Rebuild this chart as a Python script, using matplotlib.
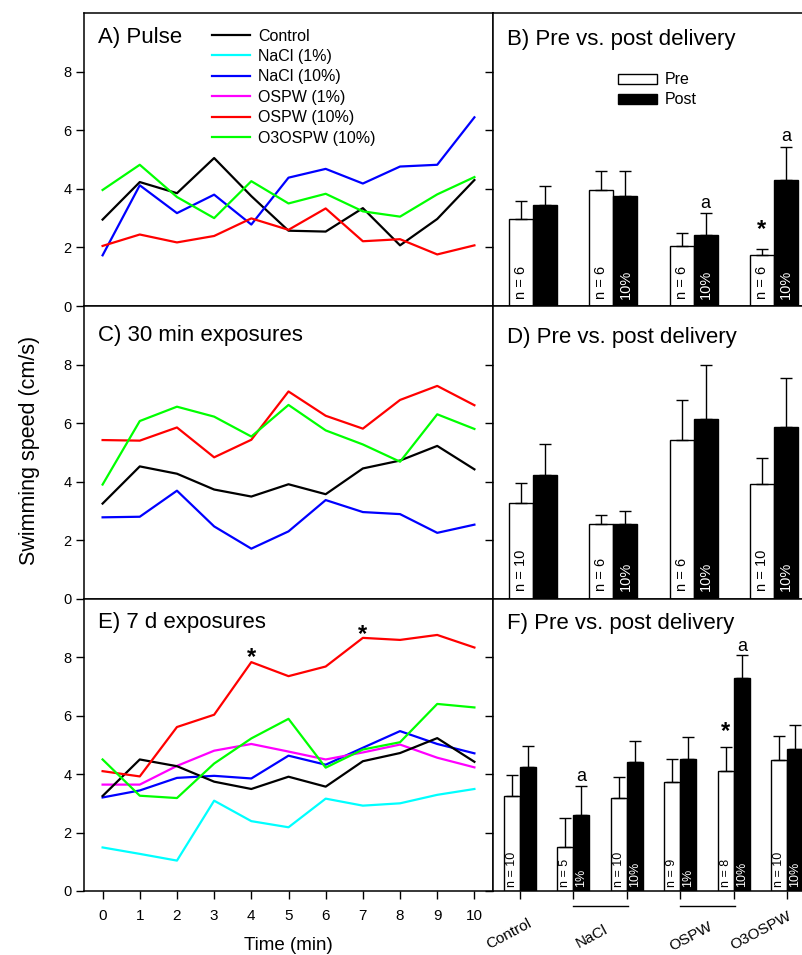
import matplotlib
matplotlib.use("Agg")
import matplotlib.pyplot as plt
from matplotlib.lines import Line2D
from matplotlib.patches import Patch
import matplotlib.transforms as mtransforms

plt.rcParams['font.family'] = ['Liberation Sans', 'DejaVu Sans']

# ---------------- data ----------------
times = list(range(11))

pulse_control = [2.95, 4.23, 3.85, 5.05, 3.75, 2.57, 2.54, 3.34, 2.07, 2.97, 4.30]
pulse_nacl10 = [1.73, 4.12, 3.17, 3.80, 2.78, 4.38, 4.68, 4.18, 4.76, 4.82, 6.44]
pulse_ospw10 = [2.05, 2.44, 2.17, 2.39, 2.99, 2.60, 3.33, 2.21, 2.28, 1.76, 2.07]
pulse_o3ospw10 = [3.96, 4.82, 3.72, 3.00, 4.26, 3.50, 3.83, 3.23, 3.05, 3.81, 4.40]

min30_control = [3.25, 4.52, 4.27, 3.73, 3.49, 3.91, 3.57, 4.45, 4.72, 5.22, 4.42]
min30_nacl10 = [2.78, 2.80, 3.69, 2.47, 1.71, 2.30, 3.37, 2.96, 2.89, 2.25, 2.53]
min30_ospw10 = [5.42, 5.40, 5.85, 4.83, 5.43, 7.08, 6.25, 5.81, 6.79, 7.27, 6.61]
min30_o3ospw10 = [3.90, 6.07, 6.56, 6.22, 5.54, 6.62, 5.75, 5.27, 4.68, 6.30, 5.80]

day7_control = [3.25, 4.50, 4.27, 3.74, 3.49, 3.91, 3.57, 4.44, 4.72, 5.23, 4.42]
day7_nacl1 = [1.49, 1.27, 1.04, 3.09, 2.39, 2.18, 3.16, 2.92, 3.00, 3.29, 3.49]
day7_nacl10 = [3.20, 3.44, 3.87, 3.94, 3.85, 4.63, 4.32, 4.90, 5.47, 5.03, 4.71]
day7_ospw1 = [3.64, 3.64, 4.28, 4.80, 5.03, 4.77, 4.50, 4.74, 5.01, 4.56, 4.23]
day7_ospw10 = [4.10, 3.92, 5.61, 6.03, 7.83, 7.35, 7.68, 8.66, 8.59, 8.76, 8.33]
day7_o3ospw10 = [4.50, 3.26, 3.18, 4.36, 5.22, 5.89, 4.22, 4.84, 5.09, 6.40, 6.28]

series_labels = ['Control', 'NaCl (1%)', 'NaCl (10%)', 'OSPW (1%)', 'OSPW (10%)', 'O3OSPW (10%)']
series_colors = ['#000000', '#00FFFF', '#0000FF', '#FF00FF', '#FF0000', '#00FF00']

# bar panels
b_pre = [2.96, 3.97, 2.05, 1.75]
b_pre_err = [0.62, 0.65, 0.44, 0.21]
b_post = [3.46, 3.76, 2.43, 4.31]
b_post_err = [0.63, 0.86, 0.75, 1.12]
b_n = ['n = 6', 'n = 6', 'n = 6', 'n = 6']
b_conc = ['', '10%', '10%', '10%']

d_pre = [3.27, 2.56, 5.42, 3.91]
d_pre_err = [0.69, 0.31, 1.38, 0.90]
d_post = [4.23, 2.54, 6.14, 5.88]
d_post_err = [1.06, 0.45, 1.83, 1.66]
d_n = ['n = 10', 'n = 6', 'n = 6', 'n = 10']
d_conc = ['', '10%', '10%', '10%']

f_pre = [3.25, 1.49, 3.19, 3.74, 4.10, 4.49]
f_pre_err = [0.73, 1.02, 0.72, 0.76, 0.82, 0.81]
f_post = [4.23, 2.59, 4.41, 4.50, 7.27, 4.87]
f_post_err = [0.73, 1.00, 0.72, 0.78, 0.79, 0.81]
f_n = ['n = 10', 'n = 5', 'n = 10', 'n = 9', 'n = 8', 'n = 10']
f_conc = ['', '1%', '10%', '1%', '10%', '10%']
f_categories = ['Control', 'NaCl', 'OSPW', 'O3OSPW']

panel_titles = ['A) Pulse', 'B) Pre vs. post delivery', 'C) 30 min exposures',
                'D) Pre vs. post delivery', 'E) 7 d exposures', 'F) Pre vs. post delivery']

# ---------------- figure ----------------
W, H = 802, 955
fig = plt.figure(figsize=(W / 100, H / 100), dpi=100)
fig.patch.set_facecolor('white')

def frac_box(x0, y0, x1, y1):
    return [x0 / W, 1 - y1 / H, (x1 - x0) / W, (y1 - y0) / H]

rows = [(13, 306), (306, 598.7), (598.7, 891)]
xl0, xdiv, xr1 = 84, 493, 814

LW_SP = 1.1
axes_left = []
axes_right = []
for (y0, y1) in rows:
    axl = fig.add_axes(frac_box(xl0, y0, xdiv, y1))
    axr = fig.add_axes(frac_box(xdiv, y0, xr1, y1))
    axes_left.append(axl)
    axes_right.append(axr)

for ax in axes_left:
    ax.set_xlim(-0.5, 10.5)
    ax.set_ylim(0, 10)
    ax.set_xticks(times)
    ax.set_yticks([0, 2, 4, 6, 8])
    ax.tick_params(axis='both', direction='out', length=6, width=1.0, labelsize=10.5, pad=3)
    ax.tick_params(axis='x', labelbottom=False)
    for s in ax.spines.values():
        s.set_linewidth(LW_SP)

for ax in axes_right:
    ax.set_ylim(0, 10)
    ax.set_yticks([0, 2, 4, 6, 8])
    ax.tick_params(axis='y', direction='out', length=6, width=1.0, labelleft=False)
    ax.tick_params(axis='x', direction='out', length=6, width=1.0, labelbottom=False)
    for s in ax.spines.values():
        s.set_linewidth(LW_SP)

LW = 1.6
# Panel A
axA = axes_left[0]
for vals, ci in [(pulse_control, 0), (pulse_nacl10, 2), (pulse_ospw10, 4), (pulse_o3ospw10, 5)]:
    axA.plot(times, vals, color=series_colors[ci], lw=LW)
handles = [Line2D([0], [0], color=c, lw=LW) for c in series_colors]
axA.legend(handles, series_labels, loc='upper left', bbox_to_anchor=(0.313, 0.947),
           frameon=False, fontsize=11.5, handlelength=2.35, handletextpad=0.55,
           labelspacing=0.34, borderpad=0, borderaxespad=0)

# Panel C
axC = axes_left[1]
for vals, ci in [(min30_control, 0), (min30_nacl10, 2), (min30_ospw10, 4), (min30_o3ospw10, 5)]:
    axC.plot(times, vals, color=series_colors[ci], lw=LW)

# Panel E
axE = axes_left[2]
for vals, ci in [(day7_nacl1, 1), (day7_nacl10, 2), (day7_ospw1, 3), (day7_control, 0),
                 (day7_ospw10, 4), (day7_o3ospw10, 5)]:
    axE.plot(times, vals, color=series_colors[ci], lw=LW)
axE.tick_params(axis='x', labelbottom=True, labelsize=11, pad=7)
axE.set_xlabel('Time (min)', fontsize=13.5, labelpad=10)
axE.text(4, 7.98, '*', ha='center', va='center', fontsize=17, fontweight='bold')
axE.text(7, 8.78, '*', ha='center', va='center', fontsize=17, fontweight='bold')

# titles
title_y = [0.915, 0.908, 0.9, 0.893, 0.92, 0.915]
for ax, t, ty in zip([axes_left[0], axes_right[0], axes_left[1], axes_right[1], axes_left[2], axes_right[2]],
                     panel_titles, title_y):
    ax.text(0.035 if ax in axes_left else 0.045, ty, t, transform=ax.transAxes,
            ha='left', va='center', fontsize=16)

# bar panels
BW = 0.3
def bar_panel(ax, pre, pre_err, post, post_err, ns, concs, nfont, ntext_y):
    pos = list(range(1, len(pre) + 1))
    xpre = [p - BW / 2 for p in pos]
    xpost = [p + BW / 2 for p in pos]
    ax.bar(xpre, pre, BW, color='white', edgecolor='black', linewidth=1.0, zorder=2)
    ax.bar(xpost, post, BW, color='black', edgecolor='black', linewidth=1.0, zorder=2)
    ax.errorbar(xpre, pre, yerr=[[0] * len(pre), pre_err], fmt='none', ecolor='black',
                elinewidth=1.0, capsize=4, capthick=1.0, zorder=3)
    ax.errorbar(xpost, post, yerr=[[0] * len(post), post_err], fmt='none', ecolor='black',
                elinewidth=1.0, capsize=4, capthick=1.0, zorder=3)
    for x, t in zip(xpre, ns):
        ax.text(x, ntext_y, t, rotation=90, ha='center', va='bottom', fontsize=nfont,
                color='black', zorder=4)
    for x, t in zip(xpost, concs):
        if t:
            ax.text(x, ntext_y, t, rotation=90, ha='center', va='bottom', fontsize=nfont,
                    color='white', zorder=4)
    ax.set_xticks(pos)
    ax.set_xlim(0.5, len(pre) + 0.5)
    return xpre, xpost

axB = axes_right[0]
xpre, xpost = bar_panel(axB, b_pre, b_pre_err, b_post, b_post_err, b_n, b_conc, 10.5, 0.25)
axB.text(xpost[2], b_post[2] + b_post_err[2] + 0.32, 'a', ha='center', va='center', fontsize=13)
axB.text(xpost[3], b_post[3] + b_post_err[3] + 0.36, 'a', ha='center', va='center', fontsize=13)
axB.text(xpre[3], 2.62, '*', ha='center', va='center', fontsize=17, fontweight='bold')
pp_handles = [Patch(facecolor='white', edgecolor='black', linewidth=1.0),
              Patch(facecolor='black', edgecolor='black', linewidth=1.0)]
axB.legend(pp_handles, ['Pre', 'Post'], loc='upper left', bbox_to_anchor=(0.388, 0.797),
           frameon=False, fontsize=11.5, handlelength=2.45, handleheight=0.6,
           handletextpad=0.5, labelspacing=0.3, borderpad=0, borderaxespad=0)

axD = axes_right[1]
bar_panel(axD, d_pre, d_pre_err, d_post, d_post_err, d_n, d_conc, 10.5, 0.25)

axF = axes_right[2]
xpre, xpost = bar_panel(axF, f_pre, f_pre_err, f_post, f_post_err, f_n, f_conc, 9, 0.12)
axF.text(xpost[1], f_post[1] + f_post_err[1] + 0.33, 'a', ha='center', va='center', fontsize=13)
axF.text(xpost[4], f_post[4] + f_post_err[4] + 0.3, 'a', ha='center', va='center', fontsize=13)
axF.text(xpre[4], 5.45, '*', ha='center', va='center', fontsize=17, fontweight='bold')

trF = mtransforms.blended_transform_factory(axF.transData, axF.transAxes)
cat_x = [1.27, 2.68, 4.64, 6.12]
cat_y = [-0.085, -0.109, -0.096, -0.061]
for cx, cy, lab in zip(cat_x, cat_y, f_categories):
    axF.text(cx, cy, lab, transform=trF, rotation=28, ha='right', va='top', fontsize=11,
             clip_on=False)
line_y = -0.051
axF.plot([1.99, 3.03], [line_y, line_y], transform=trF, color='black', lw=1.0, clip_on=False)
axF.plot([3.99, 5.02], [line_y, line_y], transform=trF, color='black', lw=1.0, clip_on=False)

fig.text(29 / W, 1 - 450 / H, 'Swimming speed (cm/s)', rotation=90, ha='center', va='center',
         fontsize=15.5)

fig.savefig('out.png', dpi=100, facecolor='white')
